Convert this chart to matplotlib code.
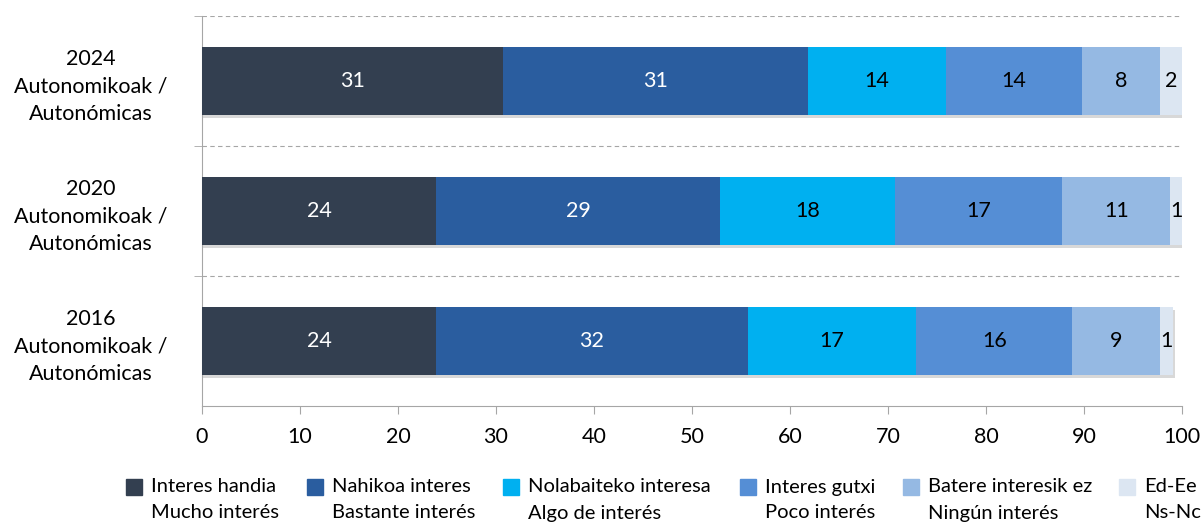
import matplotlib.pyplot as plt
import matplotlib.patheffects as pe
from matplotlib.patches import Rectangle

plt.rcParams['font.family'] = ['Lato', 'DejaVu Sans']

# data (bottom to top)
categories = ['2016\nAutonomikoak /\nAutonómicas',
              '2020\nAutonomikoak /\nAutonómicas',
              '2024\nAutonomikoak /\nAutonómicas']
series_names = ['Interes handia\nMucho interés',
                'Nahikoa interes\nBastante interés',
                'Nolabaiteko interesa\nAlgo de interés',
                'Interes gutxi\nPoco interés',
                'Batere interesik ez\nNingún interés',
                'Ed-Ee\nNs-Nc']
values = [
    [23.9, 23.9, 30.7],   # Interes handia
    [31.8, 29.0, 31.1],   # Nahikoa interes
    [17.2, 17.8, 14.1],   # Nolabaiteko interesa
    [15.9, 17.1, 13.9],   # Interes gutxi
    [9.0, 11.0, 8.0],     # Batere interesik ez
    [1.3, 1.2, 2.2],      # Ed-Ee
]
colors = ['#333F50', '#2A5D9F', '#00B0F0', '#558ED5', '#95B9E3', '#DCE6F2']
label_colors = ['white', 'white', 'black', 'black', 'black', 'black']

fig = plt.figure(figsize=(12.03, 5.23), dpi=100)
ax = fig.add_axes([202 / 1203, 1 - 406 / 523, 980 / 1203, 390 / 523])

ypos = list(range(len(categories)))
left = [0.0] * len(categories)
shadow = [pe.SimplePatchShadow(offset=(1, -2), shadow_rgbFace='#909090', alpha=0.35), pe.Normal()]
for vals, col, lc in zip(values, colors, label_colors):
    bars = ax.barh(ypos, vals, left=left, height=0.52, color=col, zorder=3)
    for b in bars:
        b.set_path_effects(shadow)
    ax.bar_label(bars, labels=[f'{v:.0f}' for v in vals], label_type='center',
                 color=lc, fontsize=15.5, zorder=4)
    left = [l + v for l, v in zip(left, vals)]

ax.set_xlim(0, 100)
ax.set_ylim(-0.5, 2.5)
ax.set_xticks(range(0, 101, 10))
ax.tick_params(axis='x', labelsize=15.5, length=6, color='#A6A6A6', pad=9)

ax.set_yticks(ypos)
ax.set_yticklabels(categories, ha='center', fontsize=15.5, linespacing=1.45)
ax.tick_params(axis='y', which='major', length=0, pad=80)
ax.set_yticks([0.5, 1.5, 2.5], minor=True)
ax.tick_params(axis='y', which='minor', length=6, color='#A6A6A6')
ax.grid(axis='y', which='minor', linestyle=(0, (4, 3)), color='#A6A6A6', linewidth=0.8, zorder=0)

for s in ['top', 'right']:
    ax.spines[s].set_visible(False)
for s in ['left', 'bottom']:
    ax.spines[s].set_color('#A6A6A6')

# legend drawn by hand: square beside the first line of each two-line label
leg_x = [126, 307, 503, 740, 903, 1119]
for x, name, col in zip(leg_x, series_names, colors):
    fig.patches.append(Rectangle((x / 1203, 1 - 495 / 523), 16 / 1203, 16 / 523,
                                 transform=fig.transFigure, color=col))
    line1, line2 = name.split('\n')
    fig.text((x + 25) / 1203, 1 - 487 / 523, line1, fontsize=14.5, va='center', ha='left')
    fig.text((x + 25) / 1203, 1 - 513 / 523, line2, fontsize=14.5, va='center', ha='left')

fig.savefig('out.png', dpi=100)
